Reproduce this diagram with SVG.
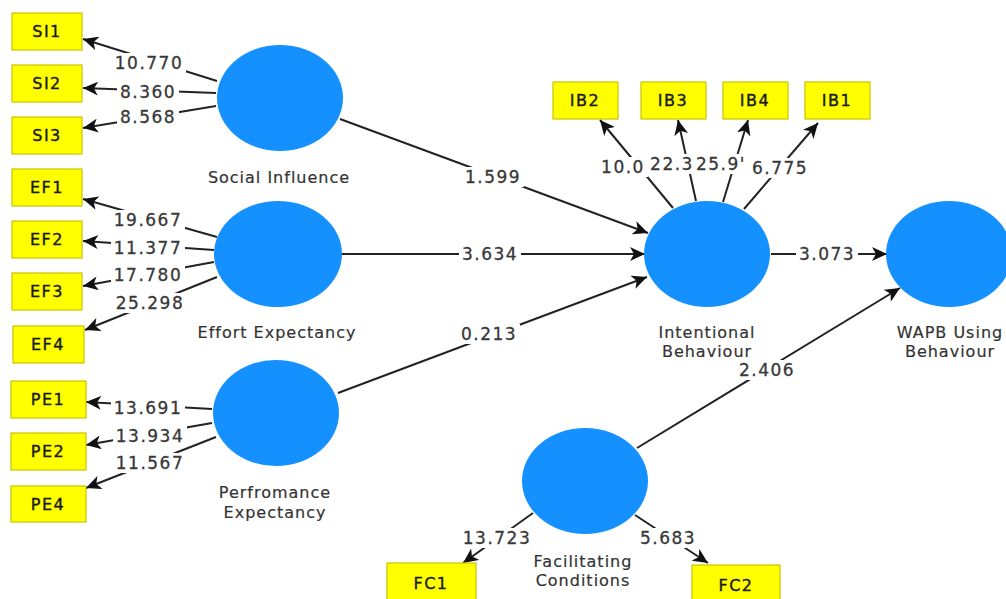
<svg xmlns="http://www.w3.org/2000/svg" width="1006" height="599" viewBox="0 0 1006 599">
<style>
.bg{fill:#ffffff}
.lv{fill:#1590ff}
.ind{fill:#ffff00;stroke:#c9c400;stroke-width:1.2}
.it{font-family:"DejaVu Sans",sans-serif;font-size:16px;fill:#1a1a1a;text-anchor:middle;letter-spacing:1.5px;stroke:#1a1a1a;stroke-width:0.4px}
.ll{font-family:"DejaVu Sans",sans-serif;font-size:16px;fill:#333;text-anchor:middle;letter-spacing:1px;stroke:#333;stroke-width:0.2px}
.num{font-family:"DejaVu Sans",sans-serif;font-size:17px;fill:#383838;text-anchor:middle;letter-spacing:1.5px;stroke:#383838;stroke-width:0.3px}
.gap{fill:#ffffff}
.c{stroke:#222;stroke-width:2;fill:none;marker-end:url(#ah)}
</style>
<defs>
<marker id="ah" markerUnits="userSpaceOnUse" markerWidth="16" markerHeight="14" refX="15" refY="7" orient="auto">
<path d="M0,0 L15,7 L0,14 L4,7 z" fill="#111"/>
</marker>
</defs>
<rect class="bg" x="0" y="0" width="1006" height="599"/>

<g id="connectors">
<line class="c" x1="217" y1="81" x2="83" y2="39"/>
<line class="c" x1="216" y1="93" x2="83" y2="88"/>
<line class="c" x1="216" y1="106" x2="83" y2="128"/>
<line class="c" x1="217" y1="237" x2="83" y2="199"/>
<line class="c" x1="214" y1="250" x2="83" y2="241"/>
<line class="c" x1="214" y1="262" x2="83" y2="286"/>
<line class="c" x1="217" y1="277" x2="85" y2="330"/>
<line class="c" x1="212" y1="409" x2="86" y2="402"/>
<line class="c" x1="212" y1="423" x2="86" y2="445"/>
<line class="c" x1="216" y1="437" x2="86" y2="488"/>
<line class="c" x1="673" y1="208" x2="600" y2="120"/>
<line class="c" x1="696" y1="201" x2="678" y2="120"/>
<line class="c" x1="723" y1="202" x2="748" y2="120"/>
<line class="c" x1="744" y1="209" x2="818" y2="123"/>
<line class="c" x1="340" y1="119" x2="648" y2="233"/>
<line class="c" x1="342" y1="254" x2="645" y2="254"/>
<line class="c" x1="338" y1="393" x2="647" y2="277"/>
<line class="c" x1="771" y1="254" x2="887" y2="254"/>
<line class="c" x1="637" y1="448" x2="900" y2="288"/>
<line class="c" x1="533" y1="513" x2="463" y2="563"/>
<line class="c" x1="635" y1="515" x2="708" y2="563"/>
</g>

<g id="connector-labels">
<rect class="gap" x="112" y="53" width="74" height="20"/>
<rect class="gap" x="117" y="82" width="62" height="20"/>
<rect class="gap" x="117" y="107" width="62" height="20"/>
<rect class="gap" x="111" y="210" width="74" height="20"/>
<rect class="gap" x="111" y="238" width="74" height="20"/>
<rect class="gap" x="111" y="265" width="74" height="20"/>
<rect class="gap" x="113" y="293" width="74" height="20"/>
<rect class="gap" x="111" y="398" width="74" height="20"/>
<rect class="gap" x="113" y="426" width="74" height="20"/>
<rect class="gap" x="113" y="453" width="74" height="20"/>
<rect class="gap" x="598" y="157" width="50" height="20"/>
<rect class="gap" x="647" y="154" width="50" height="20"/>
<rect class="gap" x="694" y="154" width="54" height="20"/>
<rect class="gap" x="749" y="158" width="62" height="20"/>
<rect class="gap" x="462" y="167" width="62" height="20"/>
<rect class="gap" x="459" y="244" width="62" height="20"/>
<rect class="gap" x="458" y="324" width="62" height="20"/>
<rect class="gap" x="796" y="244" width="62" height="20"/>
<rect class="gap" x="736" y="360" width="62" height="20"/>
<rect class="gap" x="460" y="528" width="74" height="20"/>
<rect class="gap" x="637" y="528" width="62" height="20"/>
<text class="num" x="149" y="69">10.770</text>
<text class="num" x="148" y="98">8.360</text>
<text class="num" x="148" y="123">8.568</text>
<text class="num" x="148" y="226">19.667</text>
<text class="num" x="148" y="254">11.377</text>
<text class="num" x="148" y="281">17.780</text>
<text class="num" x="150" y="309">25.298</text>
<text class="num" x="148" y="414">13.691</text>
<text class="num" x="150" y="442">13.934</text>
<text class="num" x="150" y="469">11.567</text>
<text class="num" x="623" y="173">10.0</text>
<text class="num" x="672" y="170">22.3</text>
<text class="num" x="721" y="170">25.9'</text>
<text class="num" x="780" y="174">6.775</text>
<text class="num" x="493" y="183">1.599</text>
<text class="num" x="490" y="260">3.634</text>
<text class="num" x="489" y="340">0.213</text>
<text class="num" x="827" y="260">3.073</text>
<text class="num" x="767" y="376">2.406</text>
<text class="num" x="497" y="544">13.723</text>
<text class="num" x="668" y="544">5.683</text>
</g>

<g id="SI1"><rect class="ind" x="12" y="13" width="70" height="37"/><text class="it" x="47" y="37">SI1</text></g>
<g id="SI2"><rect class="ind" x="12" y="65" width="70" height="37"/><text class="it" x="47" y="89">SI2</text></g>
<g id="SI3"><rect class="ind" x="12" y="117" width="70" height="37"/><text class="it" x="47" y="141">SI3</text></g>
<g id="EF1"><rect class="ind" x="12" y="169" width="70" height="37"/><text class="it" x="47" y="193">EF1</text></g>
<g id="EF2"><rect class="ind" x="12" y="221" width="70" height="37"/><text class="it" x="47" y="245">EF2</text></g>
<g id="EF3"><rect class="ind" x="12" y="273" width="70" height="37"/><text class="it" x="47" y="297">EF3</text></g>
<g id="EF4"><rect class="ind" x="13" y="326" width="71" height="37"/><text class="it" x="48" y="350">EF4</text></g>
<g id="PE1"><rect class="ind" x="11" y="381" width="75" height="37"/><text class="it" x="48" y="405">PE1</text></g>
<g id="PE2"><rect class="ind" x="11" y="433" width="75" height="37"/><text class="it" x="48" y="457">PE2</text></g>
<g id="PE4"><rect class="ind" x="11" y="486" width="75" height="36"/><text class="it" x="48" y="510">PE4</text></g>
<g id="IB2"><rect class="ind" x="553" y="82" width="65" height="37"/><text class="it" x="585" y="106">IB2</text></g>
<g id="IB3"><rect class="ind" x="641" y="82" width="65" height="37"/><text class="it" x="673" y="106">IB3</text></g>
<g id="IB4"><rect class="ind" x="723" y="82" width="65" height="37"/><text class="it" x="755" y="106">IB4</text></g>
<g id="IB1"><rect class="ind" x="805" y="82" width="65" height="37"/><text class="it" x="837" y="106">IB1</text></g>
<g id="FC1"><rect class="ind" x="387" y="563" width="89" height="40"/><text class="it" x="431" y="589">FC1</text></g>
<g id="FC2"><rect class="ind" x="692" y="565" width="88" height="40"/><text class="it" x="736" y="591">FC2</text></g>

<g id="SocialInfluence"><ellipse class="lv" cx="280" cy="98" rx="63" ry="53"/><text class="ll" x="279" y="183">Social Influence</text></g>
<g id="EffortExpectancy"><ellipse class="lv" cx="278" cy="254" rx="64" ry="53"/><text class="ll" x="277" y="338">Effort Expectancy</text></g>
<g id="PerformanceExpectancy"><ellipse class="lv" cx="276" cy="413" rx="63" ry="53"/><text class="ll" x="275" y="498">Perfromance</text><text class="ll" x="275" y="518">Expectancy</text></g>
<g id="IntentionalBehaviour"><ellipse class="lv" cx="707" cy="254" rx="63" ry="53"/><text class="ll" x="707" y="338">Intentional</text><text class="ll" x="707" y="357">Behaviour</text></g>
<g id="WAPBUsingBehaviour"><ellipse class="lv" cx="949" cy="254" rx="63" ry="53"/><text class="ll" x="950" y="338">WAPB Using</text><text class="ll" x="950" y="357">Behaviour</text></g>
<g id="FacilitatingConditions"><ellipse class="lv" cx="585" cy="481" rx="63" ry="53"/><text class="ll" x="583" y="567">Facilitating</text><text class="ll" x="583" y="586">Conditions</text></g>
</svg>
